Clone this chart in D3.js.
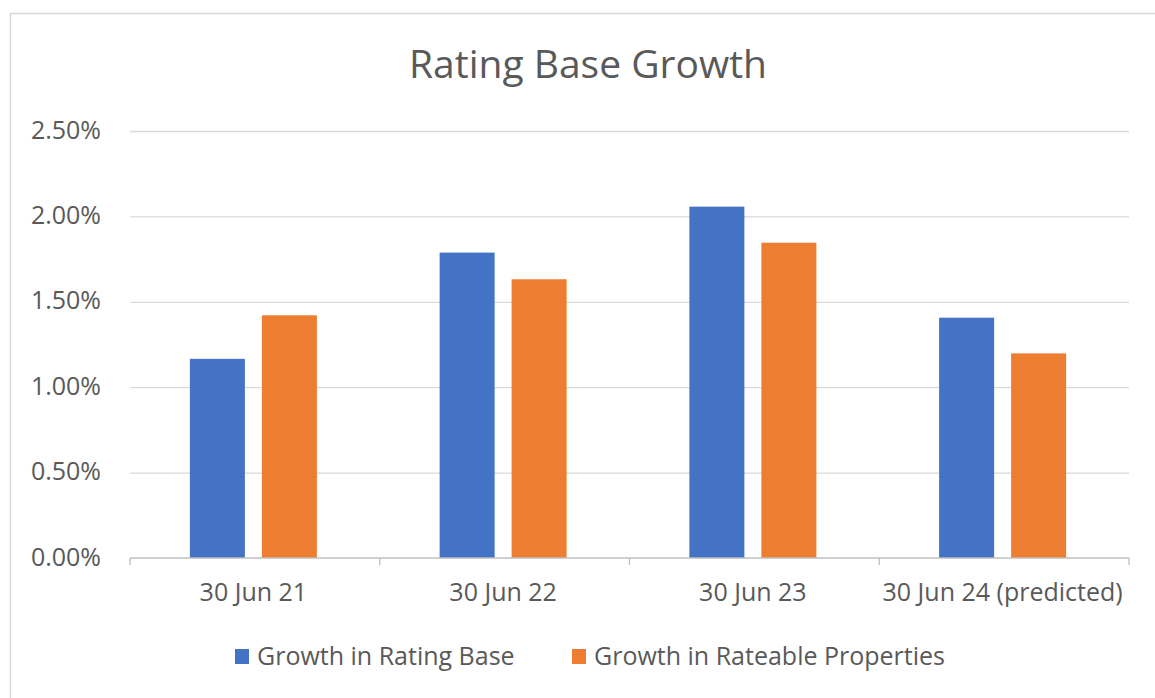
<!DOCTYPE html>
<html>
<head>
<meta charset="utf-8">
<title>Rating Base Growth</title>
<script src="https://d3js.org/d3.v7.min.js"></script>
<style>
  body { margin: 0; background: #fff; }
  text { font-family: "Open Sans", "Noto Sans", sans-serif; fill: #595959; }
  .grid line { stroke: #d9d9d9; stroke-width: 1.3; }
  .grid path { display: none; }
  .xaxis path, .xaxis line { stroke: #bfbfbf; stroke-width: 1.3; }
</style>
</head>
<body>
<script>
// chart data
var categories = ["30 Jun 21", "30 Jun 22", "30 Jun 23", "30 Jun 24 (predicted)"];
var seriesNames = ["Growth in Rating Base", "Growth in Rateable Properties"];
var ratingBase = [1.166, 1.788, 2.057, 1.407];
var rateableProps = [1.421, 1.632, 1.846, 1.198];
var yTicks = [0, 0.5, 1.0, 1.5, 2.0, 2.5];
var colors = ["#4472c4", "#ed7d31"];

var W = 1155, H = 698;
var plot = {left: 130, right: 1129, top: 131, bottom: 558};

var svg = d3.select("body").append("svg")
    .attr("width", W)
    .attr("height", H);

// chart frame (only top and left edges show in the picture)
svg.append("rect")
    .attr("x", 10.5).attr("y", 13.5)
    .attr("width", W).attr("height", H)
    .attr("fill", "none")
    .attr("stroke", "#d9d9d9")
    .attr("stroke-width", 1.5);

var y = d3.scaleLinear()
    .domain([0, 2.5])
    .range([plot.bottom, plot.top]);

var x0 = d3.scaleBand()
    .domain(categories)
    .range([plot.left, plot.right])
    .paddingInner(0.4915)
    .paddingOuter(0.4915 / 2);

var x1 = d3.scaleBand()
    .domain(seriesNames)
    .range([0, x0.bandwidth()])
    .paddingInner(0.236);

// gridlines
svg.append("g")
    .attr("class", "grid")
    .attr("transform", "translate(" + plot.left + ",0)")
    .call(d3.axisLeft(y).tickValues(yTicks.slice(1)).tickSize(-(plot.right - plot.left)).tickFormat(""));

// y labels
svg.append("g")
    .selectAll("text")
    .data(yTicks)
    .enter().append("text")
    .attr("x", 101)
    .attr("y", function(d) { return y(d); })
    .attr("dy", "0.3em")
    .attr("text-anchor", "end")
    .style("font-size", "25px")
    .text(function(d) { return d3.format(".2f")(d) + "%"; });

// bars
var rows = categories.map(function(c, i) {
    return {cat: c, vals: [ratingBase[i], rateableProps[i]]};
});

var groups = svg.append("g").selectAll("g")
    .data(rows)
    .enter().append("g")
    .attr("transform", function(d) { return "translate(" + (x0(d.cat) - 1.5) + ",0)"; });

groups.selectAll("rect")
    .data(function(d) { return d.vals.map(function(v, j) { return {s: seriesNames[j], v: v, j: j}; }); })
    .enter().append("rect")
    .attr("x", function(d) { return x1(d.s); })
    .attr("width", x1.bandwidth())
    .attr("y", function(d) { return y(d.v); })
    .attr("height", function(d) { return y(0) - y(d.v); })
    .attr("fill", function(d) { return colors[d.j]; });

// x axis with ticks between categories
var xAxis = svg.append("g")
    .attr("class", "xaxis")
    .attr("transform", "translate(0," + plot.bottom + ")");

xAxis.append("line")
    .attr("x1", plot.left).attr("x2", plot.right);

var step = x0.step();
xAxis.selectAll(".tk")
    .data(d3.range(categories.length + 1))
    .enter().append("line")
    .attr("class", "tk")
    .attr("x1", function(i) { return plot.left + i * step; })
    .attr("x2", function(i) { return plot.left + i * step; })
    .attr("y1", 0).attr("y2", 7);

xAxis.selectAll("text")
    .data(categories)
    .enter().append("text")
    .attr("x", function(d) { return x0(d) + x0.bandwidth() / 2 - 1.5; })
    .attr("y", 43)
    .attr("text-anchor", "middle")
    .style("font-size", "25px")
    .text(function(d) { return d; });

// title
svg.append("text")
    .attr("x", 588)
    .attr("y", 78)
    .attr("text-anchor", "middle")
    .style("font-size", "39px")
    .text("Rating Base Growth");

// legend
var legendX = [235, 572];
var legend = svg.append("g").selectAll("g")
    .data(seriesNames)
    .enter().append("g")
    .attr("transform", function(d, i) { return "translate(" + legendX[i] + ",649)"; });

legend.append("rect")
    .attr("width", 14).attr("height", 15)
    .attr("fill", function(d, i) { return colors[i]; });

legend.append("text")
    .attr("x", 22)
    .attr("y", 16)
    .style("font-size", "25px")
    .text(function(d) { return d; });
</script>
</body>
</html>
